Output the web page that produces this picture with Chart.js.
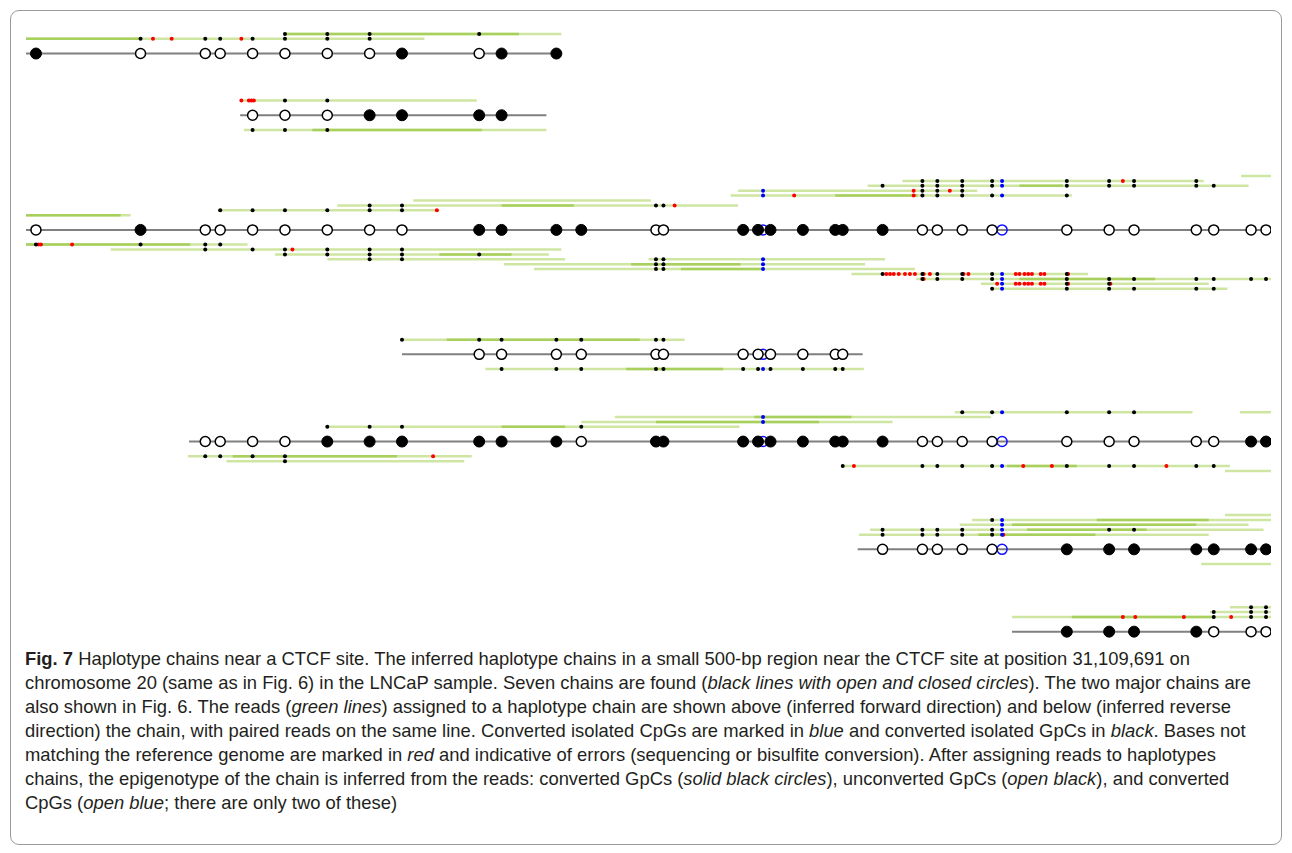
<!DOCTYPE html>
<html>
<head>
<meta charset="utf-8">
<script src="https://cdn.jsdelivr.net/npm/chart.js@4.4.1/dist/chart.umd.min.js"></script>
<style>
  html, body { margin: 0; padding: 0; background: #fff; }
  body { width: 1292px; height: 853px; position: relative; overflow: hidden; }
  #frame { position: absolute; left: 10px; top: 10px; width: 1272px; height: 835px; border: 1px solid #9a9a9a; border-radius: 9px; box-sizing: border-box; }
  #plot { position: absolute; left: 0; top: 0; }
  #caption { position: absolute; left: 25px; top: 647px; font-family: "Liberation Sans", Arial, sans-serif; font-size: 18.4px; line-height: 24px; color: #231f20; white-space: nowrap; }
</style>
</head>
<body>
<div id="frame"></div>
<canvas id="plot" width="1292" height="645"></canvas>
<div id="caption">
<b>Fig. 7</b> Haplotype chains near a CTCF site. The inferred haplotype chains in a small 500-bp region near the CTCF site at position 31,109,691 on<br>
chromosome 20 (same as in Fig. 6) in the LNCaP sample. Seven chains are found (<i>black lines with open and closed circles</i>). The two major chains are<br>
also shown in Fig. 6. The reads (<i>green lines</i>) assigned to a haplotype chain are shown above (inferred forward direction) and below (inferred reverse<br>
direction) the chain, with paired reads on the same line. Converted isolated CpGs are marked in <i>blue</i> and converted isolated GpCs in <i>black</i>. Bases not<br>
matching the reference genome are marked in <i>red</i> and indicative of errors (sequencing or bisulfite conversion). After assigning reads to haplotypes<br>
chains, the epigenotype of the chain is inferred from the reads: converted GpCs (<i>solid black circles</i>), unconverted GpCs (<i>open black</i>), and converted<br>
CpGs (<i>open blue</i>; there are only two of these)
</div>
<script>
// CpG / GpC site positions (bp inside the 500-bp window); sites 17 and 27 are CpGs
const sites = [4, 46, 72, 78, 91, 104, 121, 138, 151, 182, 191, 213, 223, 253, 256, 288, 294, 296, 299,
  312, 325, 328, 344, 360, 366, 376, 388, 392, 418, 435, 445, 470, 477, 492, 498];

// haplotype chains: first site, epigenotype per site (F solid, O open, B open blue), extent in bp
const chainFirstSite = [0, 4, 0, 9, 2, 22, 28];
const chainStates = [
  'FOOOOOOOFOFF',
  'OOOFFFF',
  'OFOOOOOOOFFFFOOFFBFFFFFOOOOBOOOOOOO',
  'OOOOOOOOBOOOO',
  'OOOOFFFFFFOFFFFBFFFFFOOOOBOOOOOFF',
  'OOOOOBFFFFFFF',
  'FFFFOOO'
];
const chainSpan = [[0, 215], [86, 209], [0, 500], [151, 336], [65.5, 500], [334, 500], [396, 500]];

// reads per chain: lane (+ above / - below), spans, overlapping part, converted sites, errors (bp)
const reads1 = [
  { lane: 1, span: [[0, 160]], dark: [[0, 46]], black: [1, 2, 3, 4, 5, 6, 7], red: [51, 58.5, 86.5] },
  { lane: 2, span: [[104, 215]], dark: [[104, 198]], black: [5, 6, 7, 9] }
];
const reads2 = [
  { lane: 1, span: [[86, 181]], black: [5, 6], red: [86.5, 89.5, 90.5, 91.5] },
  { lane: -1, span: [[87.5, 209]], dark: [[115, 183]], black: [4, 5, 6] }
];
const reads3 = [
  { lane: 1, span: [[0, 42]], dark: [[0, 38]] },
  { lane: 2, span: [[77, 166]], black: [3, 4, 5, 6, 7, 8], red: [165] },
  { lane: 3, span: [[125, 286]], dark: [[191, 220]], black: [7, 8, 13, 14], red: [260.5] },
  { lane: 4, span: [[155.5, 251]] },
  { lane: 5, span: [[283, 420]], dark: [[325, 358]], black: [23, 24, 25, 26, 28], blue: [17, 27], red: [308.5, 356.5] },
  { lane: 6, span: [[286, 382]], black: [23, 24, 25], blue: [17], red: [356.5, 371] },
  { lane: 7, span: [[338, 491]], dark: [[399, 416.5]], black: [22, 23, 24, 25, 26, 28, 29, 30, 31, 32], blue: [27] },
  { lane: 8, span: [[352, 473]], black: [23, 24, 25, 26, 28, 29, 30, 31], blue: [27], red: [440.5] },
  { lane: 9, span: [[488, 500]] },
  { lane: -1, span: [[0, 89]], dark: [[0, 66]], black: [0, 1, 2, 3], red: [5, 6, 18.5] },
  { lane: -2, span: [[34, 215]], black: [2, 4, 5, 6, 7, 8], red: [107] },
  { lane: -3, span: [[100, 210]], dark: [[166, 195]], black: [5, 6, 7, 8, 9] },
  { lane: -4, span: [[121, 216.5], [250, 345]], black: [7, 8, 13, 14], blue: [17] },
  { lane: -5, span: [[192, 337]], dark: [[243, 287]], black: [13, 14], blue: [17] },
  { lane: -6, span: [[204, 357]], dark: [[263, 295.5]], black: [13, 14], blue: [17] },
  { lane: -7, span: [[331.5, 426.5]], black: [22, 23, 24, 25, 26, 28], blue: [27],
    red: [345.5, 347, 348.5, 350.5, 353, 355, 357, 360.5, 363, 376.5, 378.5, 397.5, 399, 401, 402.5, 404, 407.5, 409, 418.5] },
  { lane: -8, span: [[357.5, 500]], dark: [[399, 453.5]], black: [23, 24, 25, 26, 28, 29, 30, 31, 32, 33, 34], blue: [27], red: [360.5] },
  { lane: -9, span: [[383.5, 475]], black: [28, 29], blue: [27], red: [390, 397.5, 399, 401, 402.5, 404, 407.5, 409, 418.5, 435.5] },
  { lane: -10, span: [[388, 482.5]], black: [26, 28, 29, 30, 31, 32], blue: [27] }
];
const reads4 = [
  { lane: 1, span: [[151, 264.5]], dark: [[169, 246.5]], black: [8, 9, 10, 11, 12, 13, 14] },
  { lane: -1, span: [[184.5, 336.5]], dark: [[241, 280]], black: [10, 11, 12, 13, 14, 15, 16, 18, 19, 20, 21], blue: [17] }
];
const reads5 = [
  { lane: 1, span: [[121, 286.5]], dark: [[191, 216.5]], black: [6, 7, 8, 12] },
  { lane: 2, span: [[223, 348]], dark: [[253, 318.5]], blue: [17] },
  { lane: 3, span: [[236.5, 387.5]], dark: [[292.5, 331.5]], blue: [17] },
  { lane: 4, span: [[373, 468.5], [487.5, 500]], black: [25, 26, 28, 29, 30], blue: [27] },
  { lane: -1, span: [[65, 179]], dark: [[83, 149]], black: [2, 3, 4, 5], red: [163.5] },
  { lane: -2, span: [[80.5, 176]], black: [5] },
  { lane: -3, span: [[327.5, 483.5]], dark: [[394, 422]], black: [21, 23, 24, 25, 26, 28, 29, 30, 31, 32], blue: [27], red: [332.5, 400.5, 412, 458] },
  { lane: -4, span: [[481.5, 500]] }
];
const reads6 = [
  { lane: 1, span: [[334.5, 475]], dark: [[382.5, 429.5]], black: [22, 23, 24, 25, 26], blue: [27], red: [392.5] },
  { lane: 2, span: [[339, 497]], dark: [[402, 450]], black: [22, 23, 24, 25, 26, 29, 30], blue: [27] },
  { lane: 3, span: [[375, 491]], dark: [[396, 470]], blue: [27] },
  { lane: 4, span: [[380, 500]], dark: [[430, 475]], black: [26], blue: [27] },
  { lane: 5, span: [[481.5, 500]] },
  { lane: -1, span: [[472, 500]] }
];
const reads7 = [
  { lane: 1, span: [[396, 500]], dark: [[420, 477]], black: [32, 33, 34], red: [440.5, 445.5, 465, 484] },
  { lane: 2, span: [[475.5, 500]], black: [32, 33, 34] },
  { lane: 3, span: [[483.5, 500]], black: [33, 34] }
];
const readsByChain = [reads1, reads2, reads3, reads4, reads5, reads6, reads7];

// layout (vertical placement of chains and read lanes)
const chainRow = [48, 111, 228, 355, 444, 554, 638];
const laneGap = 10, laneStep = 5;

const lightSeg = [], darkSeg = [], chainSeg = [];
const blackDots = [], blueDots = [], redDots = [];
const solid = [], open = [], openBlue = [];

function addSeg(list, a, b, y) {
  list.push({ x: a, y: y }, { x: b, y: y }, { x: b, y: null });
}

chainStates.forEach((states, c) => {
  const y = chainRow[c];
  addSeg(chainSeg, chainSpan[c][0], chainSpan[c][1], y);
  for (let i = 0; i < states.length; i++) {
    const p = { x: sites[chainFirstSite[c] + i], y: y };
    if (states[i] === 'F') solid.push(p);
    else if (states[i] === 'B') openBlue.push(p);
    else open.push(p);
  }
  readsByChain[c].forEach(r => {
    const ry = y - Math.sign(r.lane) * (laneGap + laneStep * Math.abs(r.lane));
    r.span.forEach(s => addSeg(lightSeg, s[0], s[1], ry));
    (r.dark || []).forEach(s => addSeg(darkSeg, s[0], s[1], ry));
    (r.black || []).forEach(k => blackDots.push({ x: sites[k], y: ry }));
    (r.blue || []).forEach(k => blueDots.push({ x: sites[k], y: ry }));
    (r.red || []).forEach(x => redDots.push({ x: x, y: ry }));
  });
});

function lineSet(data, color, width, order) {
  return { data: data, showLine: true, spanGaps: false, borderColor: color, borderWidth: width,
    borderCapStyle: 'butt', pointRadius: 0, order: order };
}
function pointSet(data, fill, stroke, radius, bw, order) {
  return { data: data, showLine: false, pointStyle: 'circle', pointRadius: radius,
    pointBackgroundColor: fill, pointBorderColor: stroke, pointBorderWidth: bw, order: order };
}

new Chart(document.getElementById('plot'), {
  type: 'scatter',
  data: {
    datasets: [
      pointSet(solid, '#000', '#000', 5.5, 1, 0),
      pointSet(open, '#fff', '#000', 5, 1.5, 0),
      pointSet(openBlue, 'rgba(255,255,255,0)', '#1010ff', 5, 1.5, 0),
      lineSet(chainSeg, '#808080', 2, 1),
      pointSet(blackDots, '#000', '#000', 2, 0, 2),
      pointSet(blueDots, '#0000ff', '#0000ff', 2, 0, 2),
      pointSet(redDots, '#ff0000', '#ff0000', 2, 0, 2),
      lineSet(darkSeg, '#a8d05c', 2.5, 3),
      lineSet(lightSeg, '#cfe6a3', 2.5, 4)
    ]
  },
  options: {
    responsive: false,
    animation: false,
    events: [],
    layout: { padding: { left: 26, right: 21, top: 0, bottom: 0 } },
    plugins: { legend: { display: false }, tooltip: { enabled: false } },
    scales: {
      x: { type: 'linear', min: 0, max: 500, display: false },
      y: { type: 'linear', min: 0, max: 645, reverse: true, display: false }
    }
  }
});
</script>
</body>
</html>
